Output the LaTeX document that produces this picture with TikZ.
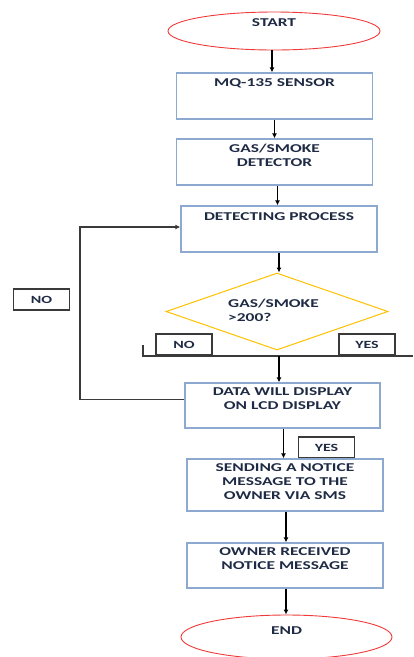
\documentclass[tikz,border=0pt]{standalone}
\usepackage{fontspec}
\setmainfont{Carlito}[FakeStretch=1.45]
\usetikzlibrary{arrows.meta,positioning,shapes.geometric}
\definecolor{boxblue}{HTML}{8EA9CF}
\definecolor{inkdark}{HTML}{1F2A44}
\definecolor{goldline}{HTML}{FFC000}
\definecolor{termred}{HTML}{F03A3A}
\definecolor{wire}{HTML}{3A3A3A}
\tikzset{
  procbox/.style={draw=boxblue, line width=1.3pt, minimum width=196, minimum height=46, inner sep=0},
  boxtext/.style={font=\bfseries\fontsize{12}{14}\selectfont, text=inkdark, align=center, inner sep=0},
  termnode/.style={ellipse, draw=termred, line width=0.9pt, inner sep=0},
  decision/.style={diamond, draw=goldline, line width=1pt, minimum width=222, minimum height=77, inner sep=0},
  tagbox/.style={draw=wire, line width=1.1pt, minimum width=56, minimum height=21, inner sep=0, font=\bfseries\fontsize{11}{13}\selectfont, text=inkdark},
  arrow/.style={-{Latex[length=5pt, width=5pt]}, line width=1.1pt, draw=black},
  wireline/.style={line width=1.3pt, draw=wire}
}
\begin{document}
\begin{tikzpicture}[x=1pt, y=-1pt]
  \useasboundingbox (0,0) rectangle (413,657);
  % start and end
  \node[termnode, minimum width=212, minimum height=38] (start) at (274,31) {};
  \node[boxtext, anchor=north] (starttext) at (274,18) {START};

  % process boxes
  \node[procbox] (sensor) at (274.5,96) {};
  \node[boxtext, below=6pt of sensor.north] (sensortext) {MQ-135 SENSOR};
  \node[procbox] (detector) at (274.5,162) {};
  \node[boxtext, below=6pt of detector.north] (detectortext) {GAS/SMOKE\\DETECTOR};
  \node[procbox] (process) at (279,229) {};
  \node[boxtext, below=7pt of process.north] (processtext) {DETECTING PROCESS};

  % decision
  \node[decision] (check) at (277,311.5) {};
  \node[boxtext, anchor=west, align=left] (checktext) at (228,310) {GAS/SMOKE\\>200?};
  \node[tagbox] (nodecide) at (184,344.5) {NO};
  \node[tagbox] (yesdecide) at (367,344.5) {YES};

  % branch line under decision
  \coordinate (busleft) at (143,356);
  \coordinate (busright) at (413,356);
  \coordinate (bustick) at (143,345);
  \coordinate (busdrop) at (279,356);
  \draw[wireline] (bustick) -- (busleft) -- (busright);

  \node[procbox, minimum width=195, minimum height=45] (display) at (282.5,405.5) {};
  \node[boxtext, below=5pt of display.north] (displaytext) {DATA WILL DISPLAY\\ON LCD DISPLAY};
  \node[tagbox] (yesnotice) at (326.5,447.5) {YES};
  \node[procbox, minimum height=52] (notice) at (285,485) {};
  \node[boxtext, below=5pt of notice.north] (noticetext) {SENDING A NOTICE\\MESSAGE TO THE\\OWNER VIA SMS};
  \node[procbox, minimum height=45] (owner) at (285,565.5) {};
  \node[boxtext, below=5pt of owner.north] (ownertext) {OWNER RECEIVED\\NOTICE MESSAGE};

  \node[termnode, minimum width=211, minimum height=44] (finish) at (286.5,637) {};
  \node[boxtext, anchor=north] (finishtext) at (286.5,627) {END};

  % loop back label
  \node[tagbox] (noloop) at (41.5,299.5) {NO};

  % arrows
  \draw[arrow] ([xshift=-2pt]start.south) -- ([xshift=-2pt]start.south |- sensor.north);
  \draw[arrow] (sensor.south) -- (detector.north);
  \draw[arrow] ([xshift=3pt]detector.south) -- ([xshift=-1.5pt]process.north);
  \draw[arrow] (process.south) -- (process.south |- check.north);
  \draw[arrow] (busdrop) -- (busdrop |- display.north);
  \draw[arrow] ([xshift=1pt]display.south) -- ([xshift=1pt]display.south |- notice.north);
  \draw[arrow] ([xshift=1pt]notice.south) -- ([xshift=1pt]notice.south |- owner.north);
  \draw[arrow] ([xshift=1pt]owner.south) -- ([xshift=1pt]owner.south |- finish.north);
  \draw[wireline, -{Latex[length=5pt, width=5pt]}] ([yshift=6pt]display.west) -| (80,227) -- (process.west |- 0,227);
\end{tikzpicture}
\end{document}
